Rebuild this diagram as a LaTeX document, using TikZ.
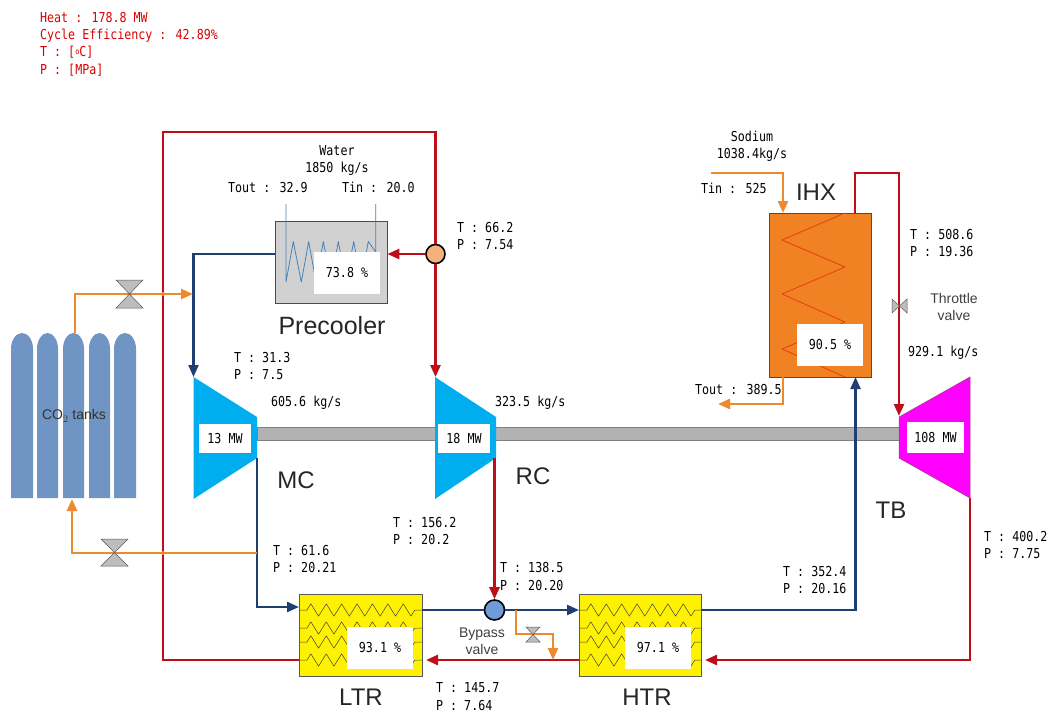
\documentclass[tikz,border=0pt]{standalone}
\usepackage{fontspec}
\setmainfont{Liberation Sans}
\newfontfamily\gul[FakeStretch=0.85]{DejaVu Sans Mono}
\usetikzlibrary{arrows.meta}
\definecolor{cred}{HTML}{BE0E18}
\definecolor{cblue}{HTML}{1F3F73}
\definecolor{corange}{HTML}{EE8A2E}
\definecolor{tankb}{HTML}{7094C4}
\definecolor{ihxo}{HTML}{F08224}
\definecolor{vgray}{HTML}{BDBDBD}
\definecolor{cyanb}{RGB}{0,174,239}
\tikzset{
 x=1pt,y=-1pt,
 redl/.style={draw=cred,line width=2.6pt},
 bluel/.style={draw=cblue,line width=2.3pt},
 orl/.style={draw=corange,line width=2.4pt},
 tip/.style={-{Triangle[length=12pt,width=10pt]}},
 lab/.style={font=\gul\fontsize{13.7}{15}\selectfont,inner sep=0pt,anchor=base west,text=black},
 clab/.style={lab,anchor=base},
 big/.style={font=\fontsize{24}{26}\selectfont,inner sep=0pt,text=black!85},
 sml/.style={font=\fontsize{14}{17}\selectfont,inner sep=0pt,align=center,text=black!75},
 pct/.style={fill=white,font=\gul\fontsize{13.7}{15}\selectfont,inner sep=0pt,minimum height=0pt},
 rlab/.style={lab,text=red!85!black},
 valve/.style={draw=black!65,fill=vgray,line width=.5pt},
 tank/.style={fill=tankb},
 zz/.style={draw=black!75,line width=.5pt,line join=round},
 hx/.style={draw=black!65,fill=yellow,minimum height=82pt,inner sep=0,line width=.7pt},
}
\newcommand{\zzrow}[3]{% x left, x right, y
 \draw[zz] (#1,#3) -- ++(8,0)
  \foreach \k in {0,...,6}{ -- ++(3.85,-6.2) -- ++(7.7,12.4) -- ++(3.85,-6.2) } -- (#2,#3);}
\begin{document}
\begin{tikzpicture}
\useasboundingbox (0,0) rectangle (1052,715);
\fill[white] (0,0) rectangle (1052,715);
% header
\node[rlab] (h1) at (40,22) {Heat : 178.8 MW};
\node[rlab] (h2) at (40,39) {Cycle Efficiency : 42.89\%};
\node[rlab] (h3) at (40,56) {T : [\raisebox{1.5pt}{\fontsize{8}{8}\selectfont o}C]};
\node[rlab] (h4) at (40,74) {P : [MPa]};
% tanks
\foreach \a/\b in {11/33,37/58,63/84,89/110,114/136}{
 \fill[tank] (\a,498) -- (\a,349) arc[start angle=180,end angle=0,x radius={(\b-\a)/2},y radius=-16] -- (\b,498) -- cycle;}
\coordinate (tankTop) at (75,333);
\coordinate (tankBot) at (72,499);
\node[font=\fontsize{14}{15}\selectfont,text=black!80,inner sep=0] (tanks) at (74,416) {CO$_2$ tanks};
% shaft
\fill[gray!60,draw=gray] (257,427.5) rectangle (900,440);
% loop corners
\coordinate (c1) at (435.5,132); \coordinate (c2) at (163,132); \coordinate (c3) at (163,660);
\coordinate (rcin) at (435.5,377);
% exchangers
\node[hx,minimum width=123pt] (ltr) at (360.5,635) {};
\node[hx,minimum width=122pt] (htr) at (640,635) {};
\foreach \y in {610,628,642,660}{\zzrow{299}{422}{\y}\zzrow{579}{701}{\y}}
\node[pct,minimum width=66pt,minimum height=42pt] (ltrp) at (380,648) {93.1 \%};
\node[pct,minimum width=66pt,minimum height=42pt] (htrp) at (658,648) {97.1 \%};
% precooler
\node[draw=black!70,fill=black!18,minimum width=112pt,minimum height=82pt,inner sep=0,line width=.7pt] (pre) at (331,262) {};
\draw[draw={rgb,255:red,70;green,130;blue,185},line width=.8pt,line join=round]
 (286,204) -- (286,282) -- (293.3,241.5) -- (301.3,282) -- (308.7,241.5) -- (316,282) -- (323.3,241.5) -- (331,282) -- (338.3,241.5) -- (346,282) -- (353.7,241.5) -- (361,282) -- (368.3,241.5) -- (375.7,252) -- (375.7,204);
\node[pct,minimum width=66pt,minimum height=42pt] (prep) at (347,273) {73.8 \%};
% IHX
\node[draw=black!70,fill=ihxo,minimum width=102pt,minimum height=164pt,inner sep=0,line width=.7pt] (ihx) at (820,295) {};
\draw[draw={rgb,255:red,232;green,60;blue,20},line width=.8pt,line join=round] (845,213) -- (782,240) -- (845,267) -- (782,294) -- (845,322) -- (782,349) -- (845,377);
\node[pct,minimum width=66pt,minimum height=42pt] (ihxp) at (830,345) {90.5 \%};
% compressors/turbine
\fill[cyanb] (193.5,377) -- (257,417) -- (257,458) -- (193.5,499) -- cycle;
\fill[cyanb] (435,377) -- (496,417) -- (496,458) -- (435,499) -- cycle;
\draw[fill={rgb,255:red,255;green,0;blue,255},draw=black!50!magenta,line width=.5pt] (899,417) -- (970,377) -- (970,498) -- (899,458) -- cycle;
\node[pct,minimum width=52pt,minimum height=29pt] (mc) at (225,438.5) {13 MW};
\node[pct,minimum width=52pt,minimum height=29pt] (rc) at (464,438.5) {18 MW};
\node[pct,minimum width=57pt,minimum height=31pt] (tb) at (935.5,437.5) {108 MW};
% splitter, mixer
\node[circle,draw=black,line width=1.6pt,fill={rgb,255:red,244;green,178;blue,122},minimum size=19pt,inner sep=0] (split) at (435.5,254) {};
\node[circle,draw=black,line width=1.6pt,fill={rgb,255:red,111;green,155;blue,216},minimum size=20pt,inner sep=0] (mix) at (494.5,610) {};
% red
\draw[redl,tip] (split.south) -- (rcin);
\draw[redl] (split.north) -- (c1) -- (c2) -- (c3) -- (ltr.west |- c3);
\draw[redl,tip] (split.west) -- (pre.east |- split);
\coordinate (rcout) at (494.5,458);
\draw[redl,tip] (rcout) -- (mix.north);
\coordinate (tbout) at (970,498);
\coordinate (tb2) at (970,660);
\coordinate (htrin) at (705,660);
\coordinate (ltrin) at (426,660);
\coordinate (htrout) at (579,660);
\draw[redl,tip] (tbout) -- (tb2) -- (htrin);
\draw[redl,tip] (htrout) -- (ltrin);
\coordinate (ihx1) at (855,213);
\coordinate (ihx2) at (855,173);
\coordinate (ihx3) at (899,173);
\coordinate (tbin) at (899,416);
\draw[redl,tip] (ihx1) -- (ihx2) -- (ihx3) -- (tbin);
% blue
\coordinate (pc1) at (193.5,254);
\draw[bluel,tip] (pre.west |- pc1) -- (pc1) -- (193.5,377);
\coordinate (mco) at (257,458); \coordinate (mc2) at (257,607);\coordinate (ltri) at (299,607);
\draw[bluel,tip] (mco) -- (mc2) -- (ltri);
\coordinate (ltro) at (422,610);
\coordinate (htri) at (579,610);
\draw[bluel] (ltro) -- (mix.west);
\draw[bluel,tip] (mix.east) -- (htri);
\coordinate (htro) at (701,610); \coordinate (h2) at (855.5,610); \coordinate (ihxb) at (855.5,377);
\draw[bluel,tip] (htro) -- (h2) -- (ihxb);
% orange
\coordinate (o1) at (75,294); \coordinate (o2) at (193,294);
\draw[orl,tip] (tankTop) -- (o1) -- (o2);
\coordinate (o3) at (257,553); \coordinate (o4) at (72,553);
\draw[orl,tip] (o3) -- (o4) -- (tankBot);
\coordinate (s1) at (711,173); \coordinate (s2) at (783,173); \coordinate (s3) at (783,213);
\draw[orl,tip] (s1) -- (s2) -- (s3);
\coordinate (s4) at (783,377); \coordinate (s5) at (783,404); \coordinate (s6) at (718,404);
\draw[orl,tip] (s4) -- (s5) -- (s6);
\coordinate (b1) at (516,610); \coordinate (b2) at (516,634); \coordinate (b3) at (553,634); \coordinate (b4) at (553,660);
\draw[orl,tip] (b1) -- (b2) -- (b3) -- (b4);
\fill[corange] (163,294) circle (2pt) (163,553) circle (2pt);
% valves
\draw[valve] (116,280) -- (143,280) -- (116,308) -- (143,308) -- cycle;
\draw[valve] (101,539) -- (128,539) -- (101,566) -- (128,566) -- cycle;
\draw[valve] (526,627) -- (540,627) -- (526,642) -- (540,642) -- cycle;
\draw[valve] (892,299) -- (892,313) -- (907,299) -- (907,313) -- cycle;
% big labels
\node[big,font=\fontsize{25}{27}\selectfont] (l1) at (332,326) {Precooler};
\node[big] (l2) at (361,697) {LTR};
\node[big] (l3) at (647,697) {HTR};
\node[big] (l4) at (296,480) {MC};
\node[big] (l5) at (533,476) {RC};
\node[big] (l6) at (891,510) {TB};
\node[big] (l7) at (816,192) {IHX};
\node[sml] (l8) at (482,641) {Bypass\\valve};
\node[sml] (l9) at (954,307) {Throttle\\valve};
% data
\node[clab] (w1) at (337,155) {Water};
\node[clab] (w2) at (337,172) {1850 kg/s};
\node[lab] (w3) at (228,192) {Tout : 32.9};
\node[lab] (w4) at (342,192) {Tin : 20.0};
\node[lab] (d1) at (457,232) {T : 66.2};
\node[lab] (d2) at (457,249) {P : 7.54};
\node[lab] (d3) at (234,362) {T : 31.3};
\node[lab] (d4) at (234,379) {P : 7.5};
\node[lab] (d5) at (271,406) {605.6 kg/s};
\node[lab] (d6) at (495,406) {323.5 kg/s};
\node[lab] (d7) at (273,555) {T : 61.6};
\node[lab] (d8) at (273,572) {P : 20.21};
\node[lab] (d9) at (393,527) {T : 156.2};
\node[lab] (d10) at (393,544) {P : 20.2};
\node[lab] (d11) at (500,572) {T : 138.5};
\node[lab] (d12) at (500,590) {P : 20.20};
\node[lab] (d13) at (783,576) {T : 352.4};
\node[lab] (d14) at (783,593) {P : 20.16};
\node[lab] (d15) at (984,541) {T : 400.2};
\node[lab] (d16) at (984,558) {P : 7.75};
\node[lab] (d17) at (436,692) {T : 145.7};
\node[lab] (d18) at (436,710) {P : 7.64};
\node[lab] (d19) at (910,239) {T : 508.6};
\node[lab] (d20) at (910,256) {P : 19.36};
\node[lab] (d21) at (908,356) {929.1 kg/s};
\node[clab] (d22) at (752,141) {Sodium};
\node[clab] (d23) at (752,158) {1038.4kg/s};
\node[lab] (d24) at (701,193) {Tin : 525};
\node[lab] (d25) at (695,394) {Tout : 389.5};
\end{tikzpicture}
\end{document}
